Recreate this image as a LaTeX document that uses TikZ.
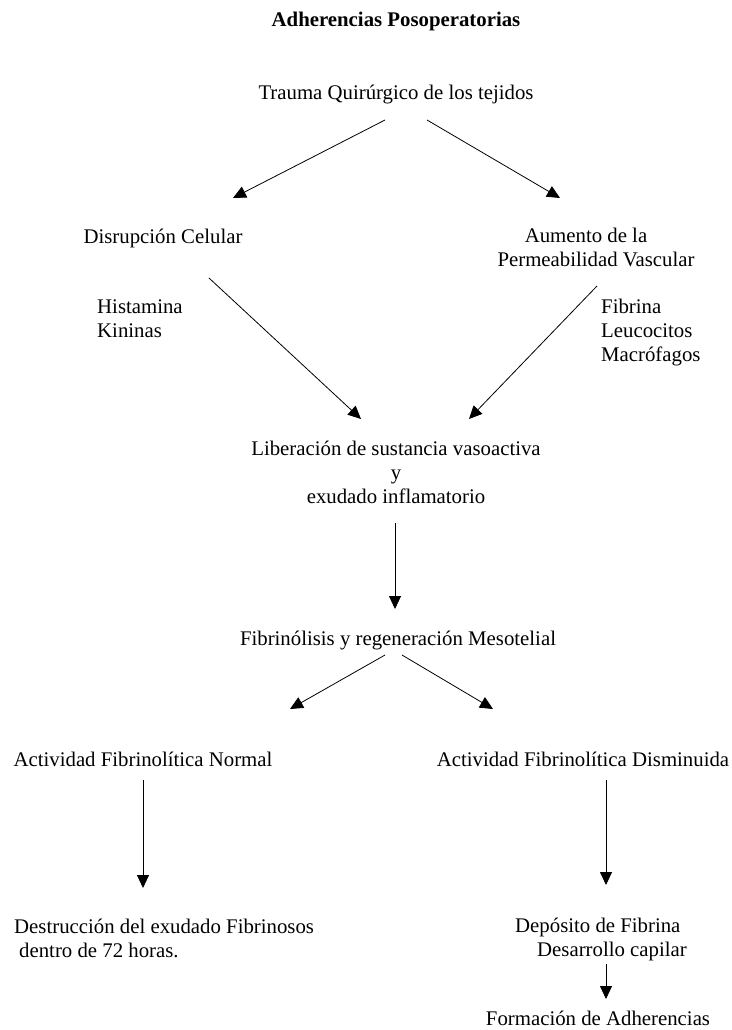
\documentclass[tikz,border=0pt]{standalone}
\usepackage{fontspec}
\setmainfont{Liberation Serif}
\usetikzlibrary{arrows.meta,calc}
\begin{document}
\begin{tikzpicture}[x=1pt,y=-1pt,
  txt/.style={font=\fontsize{20.8}{24}\selectfont, inner sep=0pt, anchor=base},
  conn/.style={line width=0.8pt, -{Triangle[width=12pt,length=13pt]}}]
\useasboundingbox[fill=white] (0,0) rectangle (731,1030);
% texts (multi-line nodes are placed by the baseline of their last line)
\node[txt, font=\fontsize{20.8}{24}\selectfont\bfseries] (title) at (396,27) {Adherencias Posoperatorias};
\node[txt] (trauma) at (396,100) {Trauma Quirúrgico de los tejidos};
\node[txt] (disr) at (163,243) {Disrupción Celular};
\node[txt, align=center] (perm) at (596,266) {Aumento de la\hspace*{20pt}\\Permeabilidad Vascular};
\node[txt, align=left, anchor=base west] (hist) at (97,337) {Histamina\\Kininas};
\node[txt, align=left, anchor=base west] (fibr) at (601,361) {Fibrina\\Leucocitos\\Macrófagos};
\node[txt, align=center] (lib) at (396,503) {Liberación de sustancia vasoactiva\\y\\exudado inflamatorio};
\node[txt] (fibrin) at (398,645) {Fibrinólisis y regeneración Mesotelial};
\node[txt] (normal) at (143,766) {Actividad Fibrinolítica Normal};
\node[txt] (dism) at (583,766) {Actividad Fibrinolítica Disminuida};
\node[txt, align=left, anchor=base west] (destr) at (14,957) {Destrucción del exudado Fibrinosos\\\hspace*{5pt}dentro de 72 horas.};
\node[txt, align=left, anchor=base west] (depo) at (515,956) {Depósito de Fibrina\\\hspace*{22pt}Desarrollo capilar};
\node[txt] (form) at (598,1025) {Formación de Adherencias};
% connector end points
\coordinate (t1) at (385,120);
\coordinate (t2) at (427,120);
\coordinate (d1) at (233,198);
\coordinate (p1) at (560,198);
\coordinate (ds) at (209,278);
\coordinate (ps) at (597,286);
\coordinate (l1) at (361,419);
\coordinate (l2) at (469,419);
\coordinate (ls) at (395,523);
\coordinate (le) at (395,609);
\coordinate (f1) at (385,655);
\coordinate (f2) at (402,655);
\coordinate (n1) at (290,709);
\coordinate (m1) at (493,709);
\coordinate (ns) at (143,780);
\coordinate (ne) at (143,888);
\coordinate (ms) at (606,780);
\coordinate (me) at (606,885);
\coordinate (dps) at (606,964);
\coordinate (dpe) at (606,999);
% connectors
\draw[conn] (t1) -- (d1);
\draw[conn] (t2) -- (p1);
\draw[conn] (ds) -- (l1);
\draw[conn] (ps) -- (l2);
\draw[conn] (ls) -- (le);
\draw[conn] (f1) -- (n1);
\draw[conn] (f2) -- (m1);
\draw[conn] (ns) -- (ne);
\draw[conn] (ms) -- (me);
\draw[conn] (dps) -- (dpe);
\end{tikzpicture}
\end{document}
